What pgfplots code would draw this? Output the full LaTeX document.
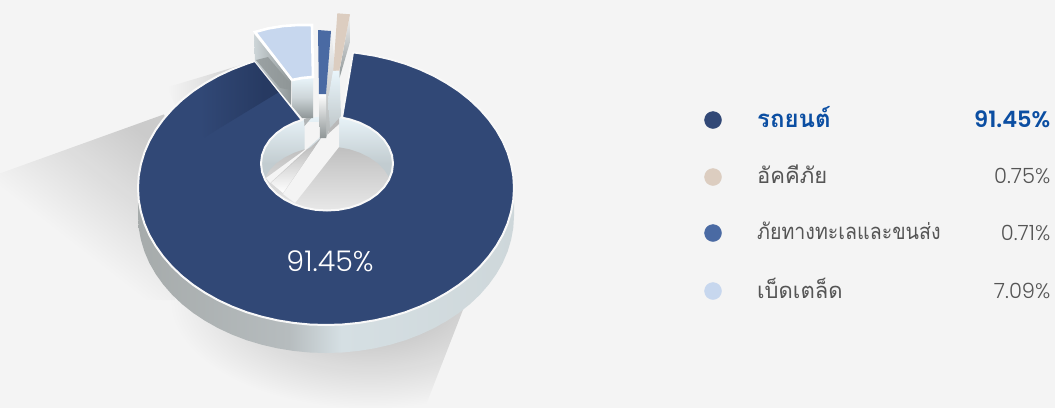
\documentclass[border=0pt]{standalone}
\usepackage{fontspec}
\usepackage{graphicx}
\usepackage{pgfplots}
\usepackage{pgfplotstable}
\pgfplotsset{compat=1.18}
\usetikzlibrary{fadings}
\setmainfont{Poppins}[UprightFont=* Light, BoldFont=* SemiBold]
\newfontfamily\thaifont[Script=Thai]{Loma}

\definecolor{bg}{HTML}{F4F4F4}
\definecolor{navy}{HTML}{314876}
\definecolor{navydark}{HTML}{273A62}
\definecolor{tan}{HTML}{DCCDC0}
\definecolor{midblue}{HTML}{4A6AA3}
\definecolor{pale}{HTML}{C7D7EE}
\definecolor{rim}{HTML}{F8F8F8}
\definecolor{boldblue}{HTML}{0B4EA2}
\definecolor{txt}{HTML}{555555}
\definecolor{wa}{HTML}{A6ABAB}
\definecolor{wb}{HTML}{B6BCBE}
\definecolor{wc}{HTML}{D5DFE3}
\definecolor{wd}{HTML}{CED7DA}
\definecolor{sb}{HTML}{C6C6C6}
\definecolor{ha}{HTML}{E8F3F8}
\definecolor{hb}{HTML}{C2CCD0}
\definecolor{ga}{HTML}{E9F5FB}
\definecolor{gb}{HTML}{CDD5D8}
\definecolor{gc}{HTML}{8F9697}

\pgfdeclarehorizontalshading{wall}{100bp}{color(0bp)=(wa); color(25bp)=(wa); color(45bp)=(wb); color(52bp)=(wc); color(75bp)=(wd); color(100bp)=(wd)}
\pgfdeclareverticalshading{holewall}{100bp}{color(0bp)=(hb); color(50bp)=(hb); color(75bp)=(ha); color(100bp)=(ha)}
\pgfdeclareverticalshading{innerwall}{100bp}{color(0bp)=(gc); color(25bp)=(gc); color(50bp)=(gb); color(75bp)=(ga); color(100bp)=(ga)}
\pgfdeclarehorizontalshading{facedark}{100bp}{color(0bp)=(navy); color(38bp)=(navy); color(68bp)=(navydark); color(100bp)=(navydark)}
% soft shadows
\tikzfading[name=undersoft, inner color=transparent!74, outer color=transparent!100]
\pgfdeclarehorizontalshading{sidesoftshade}{100bp}{gray(0bp)=(0); gray(38bp)=(0); gray(72bp)=(0.165); gray(100bp)=(0.165)}
\pgfdeclarefading{sidesoft}{\pgfuseshading{sidesoftshade}}

% outer rim and hole of the big slice, in picture pixels
\pgfplotstableread{
x y
353 52.4
358.6 53.1
374.7 55.7
390.3 59.3
405.4 63.8
420 69.4
433.8 75.8
446.8 83.1
458.9 91.1
470 99.9
480 109.4
488.8 119.5
496.4 130.1
502.7 141.1
507.6 152.5
511.1 164.2
513.3 176.1
514 188
513.3 199.9
511.1 211.8
507.6 223.5
502.7 234.9
496.4 245.9
488.8 256.5
480 266.6
470 276.1
458.9 284.9
446.8 292.9
433.8 300.2
420 306.6
405.4 312.2
390.3 316.7
374.7 320.3
358.6 322.9
342.4 324.5
326 325
309.6 324.5
293.4 322.9
277.3 320.3
261.7 316.7
246.6 312.2
232 306.6
218.2 300.2
205.2 292.9
193.1 284.9
182 276.1
172 266.6
163.2 256.5
155.6 245.9
149.3 234.9
144.4 223.5
140.9 211.8
138.7 199.9
138 188
138.7 176.1
140.9 164.2
144.4 152.5
149.3 141.1
155.6 130.1
163.2 119.5
172 109.4
182 99.9
193.1 91.1
205.2 83.1
218.2 75.8
232 69.4
246.6 63.8
255 61
302 120
294 122.8
284.6 127.5
276.4 133.3
269.8 140
265 147.4
262 155.3
261 163.5
262 171.7
265 179.6
269.8 187
276.4 193.7
284.6 199.5
294 204.2
304.4 207.7
315.5 209.8
327 210.5
338.5 209.8
349.6 207.7
360 204.2
369.4 199.5
377.6 193.7
384.2 187
389 179.6
392 171.7
393 163.5
392 155.3
389 147.4
384.2 140
377.6 133.3
369.4 127.5
360 122.8
349.6 119.3
342 117.7
}\navyface

\pgfplotstableread{
x y
514 188
514 216
513.3 227.9
511.1 239.8
507.6 251.5
502.7 262.9
496.4 273.9
488.8 284.5
480 294.6
470 304.1
458.9 312.9
446.8 320.9
433.8 328.2
420 334.6
405.4 340.2
390.3 344.7
374.7 348.3
358.6 350.9
342.4 352.5
326 353
309.6 352.5
293.4 350.9
277.3 348.3
261.7 344.7
246.6 340.2
232 334.6
218.2 328.2
205.2 320.9
193.1 312.9
182 304.1
172 294.6
163.2 284.5
155.6 273.9
149.3 262.9
144.4 251.5
140.9 239.8
138.7 227.9
138 216
138 188
}\sidewall

\pgfplotstableread{
x y
261 163.5
262 155.3
265 147.4
269.8 140
276.4 133.3
284.6 127.5
294 122.8
304.4 119.3
315.5 117.2
327 116.5
338.5 117.2
349.6 119.3
360 122.8
369.4 127.5
377.6 133.3
384.2 140
389 147.4
392 155.3
393 163.5
392 171.7
389 179.6
384.2 187
377.6 193.7
369.4 199.5
360 204.2
349.6 207.7
338.5 209.8
327 210.5
315.5 209.8
304.4 207.7
294 204.2
284.6 199.5
276.4 193.7
269.8 187
265 179.6
262 171.7
}\holearea

\pgfplotstableread{
x y
265 177.4
269.8 170
276.4 163.3
284.6 157.5
294 152.8
304.4 149.3
315.5 147.2
327 146.5
338.5 147.2
349.6 149.3
360 152.8
369.4 157.5
377.6 163.3
384.2 170
389 177.4
389 179.6
384.2 187
377.6 193.7
369.4 199.5
360 204.2
349.6 207.7
338.5 209.8
327 210.5
315.5 209.8
304.4 207.7
294 204.2
284.6 199.5
276.4 193.7
269.8 187
265 179.6
}\holefloor

\begin{document}
\begin{tikzpicture}
\begin{axis}[
    scale only axis,
    width=1055pt, height=408pt,
    xmin=0, xmax=1055, ymin=0, ymax=408,
    y dir=reverse,
    hide axis,
    clip=true,
    axis background/.style={fill=bg},
]
% cast shadows on the background
\addplot[draw=none, fill=black, path fading=sidesoft, fading angle=50] coordinates {(0,173) (164,114) (200,200) (175,300) (0,300)} --cycle;
\addplot[draw=none, left color=bg, right color=sb] coordinates {(258,60) (168,87) (175,105) (258,70)} --cycle;
\addplot[draw=none, fill=black, path fading=undersoft] coordinates {(170,192) (570,192) (514,200) (467,300) (425,408) (170,408)} --cycle;

% side wall, hole and hole floor
\addplot[draw=none, shading=wall] table {\sidewall} --cycle;
\addplot[draw=none, shading=holewall] table {\holearea} --cycle;
\addplot[draw=none, top color=gray!50, bottom color=gray!18] table {\holefloor} --cycle;

% gaps seen through the hole
\addplot[draw=none, fill=bg] coordinates {(304.5,122) (320,122) (320,137) (270,183) (266,178) (304.5,150)} --cycle;
\addplot[draw=none, fill=bg] coordinates {(322,137) (339,118) (339,147) (295,203) (283,194)} --cycle;
\addplot[draw=none, top color=gray!60, bottom color=white] coordinates {(321,138) (283,193) (271,183)} --cycle;
\addplot[draw=none, fill=gray!55] coordinates {(330,125) (339,117) (339,124) (328,134)} --cycle;
\addplot[draw=none, fill=gc!70!white] coordinates {(304,119) (313,116) (304.5,126)} --cycle;

% big slice
\addplot[draw=none, fill=navy] table {\navyface} --cycle;
\addplot[draw=none, shading=facedark] coordinates {(255,61) (279,92) (205,137) (172,109.4) (182,99.9) (193.1,91.1) (205.2,83.1) (218.2,75.8) (232,69.4) (246.6,63.8)} --cycle;
\addplot[draw=rim, line width=2pt, line join=round] table {\navyface} --cycle;

% exploded slice 7.09: walls and face
\addplot[draw=none, left color=gb, right color=gc] coordinates {(254,34) (291,80) (291,105) (255,61)} --cycle;
\addplot[draw=none, fill=gc, opacity=0.8] coordinates {(256,60) (268,57) (290,83) (291,90) (280,88)} --cycle;
\addplot[draw=none, shading=innerwall] coordinates {(292,80) (313,77) (313,118) (302,118) (292,106)} --cycle;
\addplot[draw=white, line width=2.6pt, fill=pale] coordinates {(255,32) (268,28.5) (283,26) (298,25) (312,25) (313,77) (302,78) (292,80)} --cycle;

% exploded slice 0.71
\addplot[draw=none, top color=bg, bottom color=gc!70!white] coordinates {(331,31) (336,71) (331,125) (326,138) (326,94)} --cycle;
\addplot[draw=none, top color=white, bottom color=gc] coordinates {(319,94) (326,94) (326,138) (320,138)} --cycle;
\addplot[draw=none, fill=midblue] coordinates {(318,30) (331,31) (326,94) (319,94)} --cycle;

% exploded slice 0.75
\addplot[draw=none, top color=ga, bottom color=gb!80!gc] coordinates {(333,71) (339.5,71) (341,116) (330,128) (328,100)} --cycle;
\addplot[draw=none, top color=bg, bottom color=gc] coordinates {(350,14.3) (339.5,71) (339.5,78) (350,42)} --cycle;
\addplot[draw=none, fill=tan] coordinates {(337.3,13.3) (350,14.3) (339.3,70.7) (333.3,70.7)} --cycle;

% legend markers
\addplot[only marks, mark=*, mark size=8.5pt, color=navy] coordinates {(713,120)};
\addplot[only marks, mark=*, mark size=8.5pt, color=tan] coordinates {(713,177)};
\addplot[only marks, mark=*, mark size=8.5pt, color=midblue] coordinates {(713,233)};
\addplot[only marks, mark=*, mark size=8.5pt, color=pale] coordinates {(713,291)};

\node[text=white, font=\fontsize{28.5}{32}\selectfont] at (axis cs:330,261) {91.45\%};

\node[anchor=west, inner sep=0pt, text=boldblue, font=\fontsize{24}{28}\selectfont\thaifont\bfseries] at (axis cs:757,117) {รถยนต์};
\node[anchor=west, inner sep=0pt, text=txt, font=\fontsize{22}{26}\selectfont\thaifont] at (axis cs:757,174) {อัคคีภัย};
\node[anchor=west, inner sep=0pt, text=txt, font=\fontsize{22}{26}\selectfont\thaifont] at (axis cs:757,231) {\scalebox{0.89}[1]{ภัยทางทะเลและขนส่ง}};
\node[anchor=west, inner sep=0pt, text=txt, font=\fontsize{22}{26}\selectfont\thaifont] at (axis cs:757,288) {เบ็ดเตล็ด};

\node[anchor=east, inner sep=0pt, text=boldblue, font=\fontsize{22.5}{26}\selectfont\bfseries] at (axis cs:1050.5,119) {91.45\%};
\node[anchor=east, inner sep=0pt, text=txt, font=\fontsize{21}{25}\selectfont] at (axis cs:1050.5,176) {0.75\%};
\node[anchor=east, inner sep=0pt, text=txt, font=\fontsize{21}{25}\selectfont] at (axis cs:1050.5,233) {0.71\%};
\node[anchor=east, inner sep=0pt, text=txt, font=\fontsize{21}{25}\selectfont] at (axis cs:1050.5,291) {7.09\%};
\end{axis}
\end{tikzpicture}
\end{document}
